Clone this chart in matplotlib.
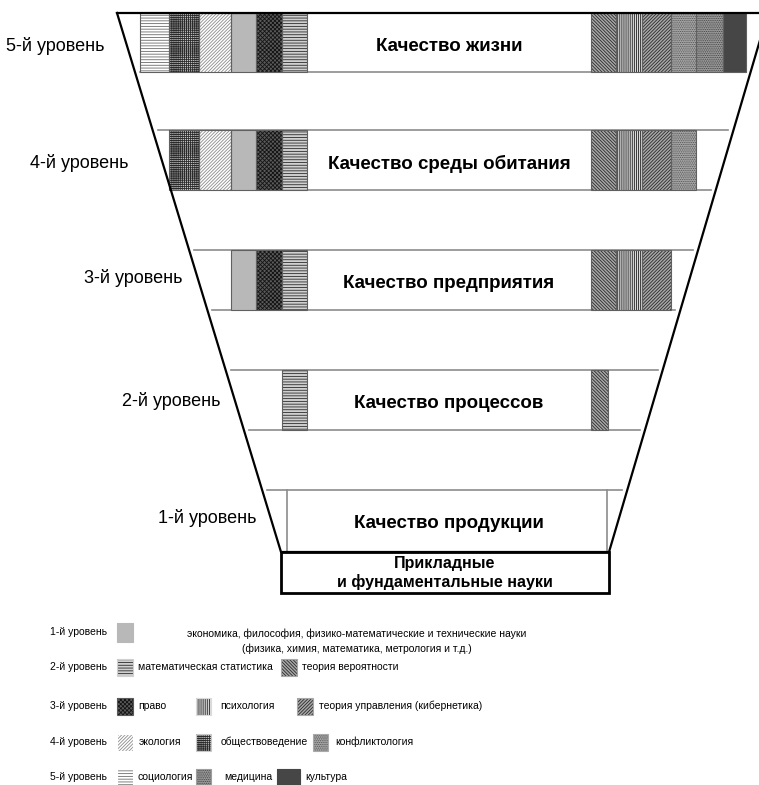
import matplotlib
matplotlib.use("Agg")
import matplotlib.pyplot as plt
from matplotlib.patches import Rectangle

plt.rcParams['font.family'] = ['Liberation Sans', 'DejaVu Sans']
plt.rcParams['hatch.linewidth'] = 0.6

# levels of the funnel, bottom (1) to top (5)
level_labels = ['1-й уровень', '2-й уровень', '3-й уровень', '4-й уровень', '5-й уровень']
level_titles = ['Качество продукции', 'Качество процессов', 'Качество предприятия',
                'Качество среды обитания', 'Качество жизни']

# disciplines shown in the left and right blocks of each band
left_disc = ['социология', 'обществоведение', 'экология', 'экономика', 'право',
             'математическая статистика']
right_disc = ['теория вероятности', 'психология', 'теория управления (кибернетика)',
              'конфликтология', 'медицина', 'культура']

level_left = [
    [],
    ['математическая статистика'],
    ['экономика', 'право', 'математическая статистика'],
    ['обществоведение', 'экология', 'экономика', 'право', 'математическая статистика'],
    left_disc,
]
level_right = [
    [],
    ['теория вероятности'],
    ['теория вероятности', 'психология', 'теория управления (кибернетика)'],
    ['теория вероятности', 'психология', 'теория управления (кибернетика)', 'конфликтология'],
    right_disc,
]

# legend rows: level -> disciplines
legend_rows = [
    ['экономика'],
    ['математическая статистика', 'теория вероятности'],
    ['право', 'психология', 'теория управления (кибернетика)'],
    ['экология', 'обществоведение', 'конфликтология'],
    ['социология', 'медицина', 'культура'],
]
econ_text = 'экономика, философия, физико-математические и технические науки\n(физика, химия, математика, метрология и т.д.)'
base_text = 'Прикладные\nи фундаментальные науки'

# fill styles: face colour, hatch colour, hatch
styles = {
    'социология': ('white', '#6a6a6a', '------'),
    'обществоведение': ('#c8c8c8', '#2a2a2a', '++++++++'),
    'экология': ('white', '#8c8c8c', '//////////'),
    'экономика': ('#b8b8b8', '#b8b8b8', ''),
    'право': ('#5a5a5a', '#141414', 'xxxxxxxx'),
    'математическая статистика': ('#d0d0d0', '#2a2a2a', '------'),
    'теория вероятности': ('#a8a8a8', '#2a2a2a', '\\' * 10),
    'психология': ('#dadada', '#1e1e1e', '||||||||'),
    'теория управления (кибернетика)': ('#a8a8a8', '#2a2a2a', '/' * 10),
    'конфликтология': ('#aaaaaa', '#505050', '.........'),
    'медицина': ('#9e9e9e', '#404040', '.........'),
    'культура': ('#464646', '#464646', ''),
}

# layout (pixel coordinates)
W, H = 759, 785
top_y, bot_y = 13, 552
top_l, top_r, bot_l, bot_r = 117, 768, 281, 609
band_y = [(490, 552), (370, 430), (250, 310), (130, 190), (13, 72)]
left_edges = [140, 169, 199, 231, 256, 282, 307]
right_edges = [591, 616, 642, 671, 696, 723, 746]
label_pos = [(256, 518), (221, 401), (182, 278), (128, 163), (104, 46)]
title_x = 449


def trap_left(y):
    return top_l + (bot_l - top_l) * (y - top_y) / (bot_y - top_y)


def trap_right(y):
    return top_r + (bot_r - top_r) * (y - top_y) / (bot_y - top_y)


def swatch(ax, x, y, w, h, name, border='#606060'):
    fc, hc, hatch = styles[name]
    ax.add_patch(Rectangle((x, y), w, h, facecolor=fc, edgecolor=hc, hatch=hatch,
                           linewidth=0, zorder=3))
    ax.add_patch(Rectangle((x, y), w, h, fill=False, edgecolor=border,
                           linewidth=0.8, zorder=4))


fig = plt.figure(figsize=(W / 100, H / 100), dpi=100)
ax = fig.add_axes([0, 0, 1, 1])
ax.set_xlim(0, W)
ax.set_ylim(H, 0)
ax.axis('off')

# grey band borders
for y in [72, 130, 190, 250, 310, 370, 430, 490]:
    ax.plot([trap_left(y) + 5, trap_right(y) - 5], [y, y], color='#8c8c8c', lw=1.2, zorder=2)
for x in [287, 607]:
    ax.plot([x, x], [490, 552], color='#8c8c8c', lw=1.2, zorder=2)

# discipline blocks in each band
for i in range(5):
    y0, y1 = band_y[i]
    for name in level_left[i]:
        k = left_disc.index(name)
        swatch(ax, left_edges[k], y0, left_edges[k + 1] - left_edges[k], y1 - y0, name)
    for name in level_right[i]:
        k = right_disc.index(name)
        x1 = right_edges[k + 1]
        if i == 1:
            x1 = 608
        swatch(ax, right_edges[k], y0, x1 - right_edges[k], y1 - y0, name)
    ax.text(title_x, (y0 + y1) / 2 + 4 - (2 if i == 0 else 0), level_titles[i],
            ha='center', va='center', fontsize=13.5, fontweight='bold', zorder=6)
    lx, ly = label_pos[i]
    ax.text(lx, ly, level_labels[i], ha='right', va='center', fontsize=13, zorder=6)

# funnel outline
ax.plot([top_l, bot_l, bot_r, top_r], [top_y, bot_y, bot_y, top_y], color='black',
        lw=1.6, zorder=7, solid_joinstyle='miter')
ax.plot([top_l, W + 20], [top_y, top_y], color='black', lw=1.6, zorder=7)

# base box
ax.add_patch(Rectangle((bot_l, bot_y), bot_r - bot_l, 41, fill=False, edgecolor='black',
                       linewidth=2, zorder=7))
ax.text(445, 573, base_text, ha='center', va='center', fontsize=11.5,
        fontweight='bold', linespacing=1.2, zorder=6)

# legend
row_y = [632, 667, 706, 742, 777]
row_items = [
    [(117, 16, None)],
    [(117, 16, 138), (281, 16, 302)],
    [(117, 16, 138), (196, 15, 220), (297, 16, 319)],
    [(117, 16, 139), (196, 15, 221), (313, 15, 335)],
    [(117, 16, 138), (196, 15, 224), (277, 23, 305)],
]
lfs = 7.5
for r in range(5):
    y = row_y[r]
    ax.text(50, y, level_labels[r], ha='left', va='center', fontsize=lfs)
    for name, (sx, sw, tx) in zip(legend_rows[r], row_items[r]):
        sh = 19 if r == 0 else 17
        swatch(ax, sx, y - sh / 2, sw, sh, name, border=styles[name][0])
        if tx is not None:
            ax.text(tx, y, name, ha='left', va='center', fontsize=lfs)
ax.text(357, 641, econ_text, ha='center', va='center', fontsize=lfs, linespacing=1.5)

fig.savefig('out.png', dpi=100)
